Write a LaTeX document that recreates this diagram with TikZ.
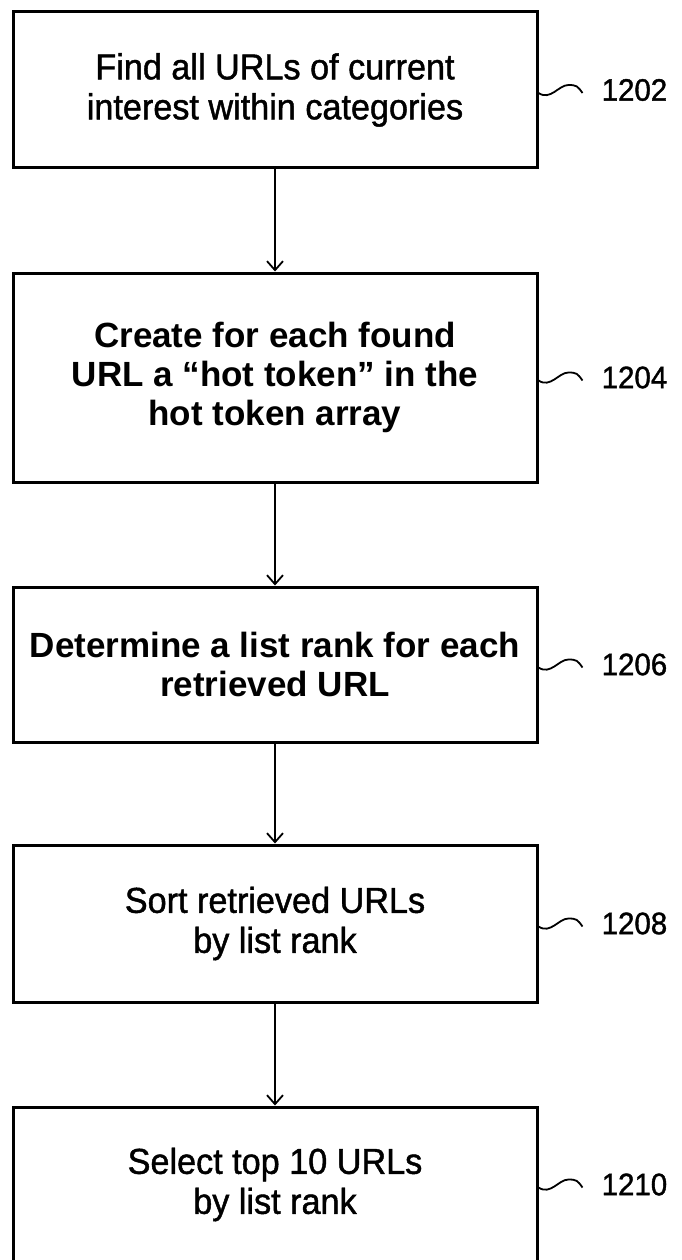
\documentclass[tikz,border=0pt]{standalone}
\usepackage{fontspec}
\setmainfont{Liberation Sans}
\newfontfamily\scanfont{Liberation Sans}[FakeBold=1.2,FakeStretch=0.95]
\usepackage{tikz}
\usetikzlibrary{arrows.meta}
\usetikzlibrary{positioning}
\pgfdeclarelayer{edgelayer}
\pgfdeclarelayer{nodelayer}
\pgfsetlayers{edgelayer,nodelayer,main}
\tikzstyle{stepbox}=[rectangle,fill=white,draw=black,line width=3pt,minimum width=524pt,align=center,inner sep=0pt,font=\scanfont\fontsize{36}{40}\selectfont]
\tikzstyle{stepboxbold}=[stepbox,font=\bfseries\fontsize{35}{39}\selectfont]
\tikzstyle{reflabel}=[inner sep=0pt,font=\scanfont\fontsize{31}{34}\selectfont]
\tikzstyle{flow}=[-{Straight Barb[length=9pt,width=16pt]},line width=1.8pt]
\tikzstyle{lead}=[line width=1.8pt]

\begin{document}
\begin{tikzpicture}[x=1pt,y=-1pt]
        \useasboundingbox (0,0) rectangle (682,1260);
        \begin{pgfonlayer}{nodelayer}
            \node [style = stepbox, minimum height=156pt] (find) at (275, 90) {Find all URLs of current\\interest within categories};
            \node [style = stepboxbold, minimum height=209pt] (create) at (275, 377.5) {Create for each found\\URL a “hot token” in the\\hot token array};
            \node [style = stepboxbold, minimum height=155pt] (rank) at (275, 664.5) {Determine a list rank for each\\retrieved URL};
            \node [style = stepbox, minimum height=157pt] (sort) at (275, 923.5) {Sort retrieved URLs\\by list rank};
            \node [style = stepbox, minimum height=155pt] (select) at (275, 1184.5) {Select top 10 URLs\\by list rank};

            \node [style = reflabel, right=63pt of find.east] (l1202) {1202};
            \node [style = reflabel, right=63pt of create.east] (l1204) {1204};
            \node [style = reflabel, right=63pt of rank.east] (l1206) {1206};
            \node [style = reflabel, right=63pt of sort.east] (l1208) {1208};
            \node [style = reflabel, right=63pt of select.east] (l1210) {1210};
        \end{pgfonlayer}

        \begin{pgfonlayer}{edgelayer}
            \draw [style = flow] (find) to (create);
            \draw [style = flow] (create) to (rank);
            \draw [style = flow] (rank) to (sort);
            \draw [style = flow] (sort) to (select);

            % squiggly leads to the reference numbers
            \draw [style = lead] ([yshift=-3pt]find.east) .. controls +(12,8) and +(-10,0) .. ++(30,-8) .. controls +(8,0) and +(-5,-7) .. ++(14,8);
            \draw [style = lead] ([yshift=-3pt]create.east) .. controls +(12,8) and +(-10,0) .. ++(30,-8) .. controls +(8,0) and +(-5,-7) .. ++(14,8);
            \draw [style = lead] ([yshift=-3pt]rank.east) .. controls +(12,8) and +(-10,0) .. ++(30,-8) .. controls +(8,0) and +(-5,-7) .. ++(14,8);
            \draw [style = lead] ([yshift=-3pt]sort.east) .. controls +(12,8) and +(-10,0) .. ++(30,-8) .. controls +(8,0) and +(-5,-7) .. ++(14,8);
            \draw [style = lead] ([yshift=-3pt]select.east) .. controls +(12,8) and +(-10,0) .. ++(30,-8) .. controls +(8,0) and +(-5,-7) .. ++(14,8);
        \end{pgfonlayer}
    \end{tikzpicture}
\end{document}
